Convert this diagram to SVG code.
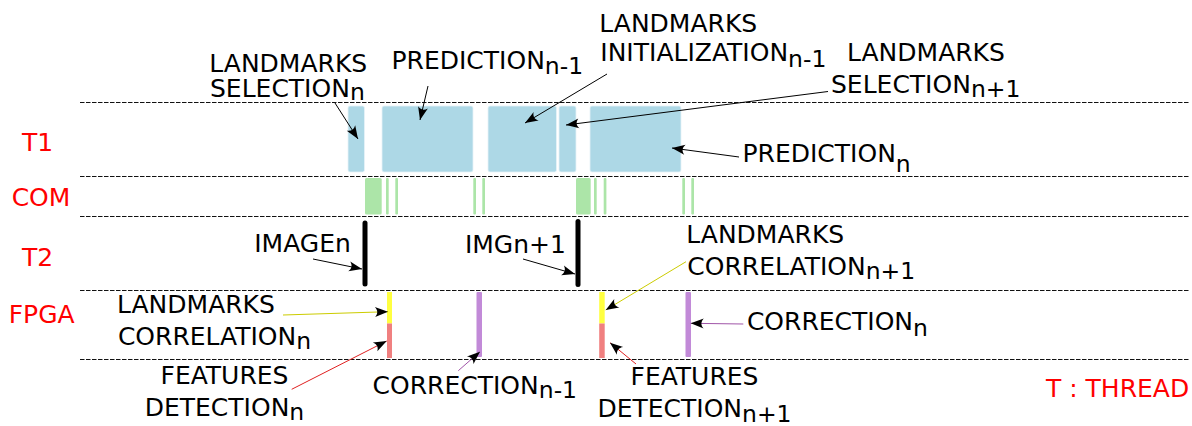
<svg xmlns="http://www.w3.org/2000/svg" width="1192" height="426" viewBox="0 0 1192 426">
<defs>
<style>
.lane{stroke:#111;stroke-width:1;stroke-dasharray:4.5 1.5;fill:none}
.t1{fill:#add8e6;stroke:#e6f3f7;stroke-width:0.8}
.com{fill:#ace5a8}
.t2{stroke:#000;stroke-width:5;stroke-linecap:round}
.yel{fill:#ffff40}
.red{fill:#f08080}
.pur{fill:#c28ad8}
.lbl{font-family:"DejaVu Sans",sans-serif;font-size:25px;fill:#000}
.sub{font-size:23.5px}
.thr{font-family:"DejaVu Sans",sans-serif;font-size:25px;fill:#ff0000}
.c{fill:none;stroke-width:1}
</style>
<marker id="ah" viewBox="-15 -7 16 14" refX="0" refY="0" markerWidth="16" markerHeight="14" markerUnits="userSpaceOnUse" orient="auto">
<path d="M0,0 L-13,-5 C-10,-1.5 -10,1.5 -13,5 Z" fill="#000"/>
</marker>
</defs>
<rect width="1192" height="426" fill="#fff"/>

<g id="lanes">
<line class="lane" x1="80" y1="102.5" x2="1190" y2="102.5"/>
<line class="lane" x1="80" y1="176.5" x2="1190" y2="176.5"/>
<line class="lane" x1="80" y1="216.5" x2="1190" y2="216.5"/>
<line class="lane" x1="80" y1="290.5" x2="1190" y2="290.5"/>
<line class="lane" x1="80" y1="359.5" x2="1190" y2="359.5"/>
</g>

<g id="lane-labels">
<text class="thr" x="37.5" y="151" text-anchor="middle">T1</text>
<text class="thr" x="41" y="205.7" text-anchor="middle">COM</text>
<text class="thr" x="37.5" y="265.7" text-anchor="middle">T2</text>
<text class="thr" x="41.7" y="323.3" text-anchor="middle">FPGA</text>
<text class="thr" x="1046" y="397.3">T : THREAD</text>
</g>

<g id="t1-blocks">
<rect id="sel-n" class="t1" x="348" y="106" width="16.5" height="66" rx="2"/>
<rect id="pred-n-1" class="t1" x="382" y="106" width="91" height="66" rx="2"/>
<rect id="init-n-1" class="t1" x="488" y="106" width="68.5" height="66" rx="2"/>
<rect id="sel-n+1" class="t1" x="559" y="106" width="17" height="66" rx="2"/>
<rect id="pred-n" class="t1" x="590" y="106" width="91" height="66" rx="2"/>
</g>

<g id="com-blocks">
<rect class="com" x="365" y="178" width="16.7" height="36.5" rx="1.5"/>
<rect class="com" x="386" y="178" width="2.7" height="36.5" rx="1"/>
<rect class="com" x="395.3" y="178" width="2.7" height="36.5" rx="1"/>
<rect class="com" x="473.3" y="178" width="2.7" height="36.5" rx="1"/>
<rect class="com" x="482.3" y="178" width="2.7" height="36.5" rx="1"/>
<rect class="com" x="576" y="178" width="14.7" height="36.5" rx="1.5"/>
<rect class="com" x="594" y="178" width="2.7" height="36.5" rx="1"/>
<rect class="com" x="603.7" y="178" width="2.7" height="36.5" rx="1"/>
<rect class="com" x="682.3" y="178" width="2.7" height="36.5" rx="1"/>
<rect class="com" x="691.3" y="178" width="2.7" height="36.5" rx="1"/>
</g>

<g id="t2-bars">
<line id="image-n" class="t2" x1="365" y1="223" x2="365" y2="284"/>
<line id="img-n+1" class="t2" x1="578" y1="221.5" x2="578" y2="284.5"/>
</g>

<g id="fpga-bars">
<rect id="lc-n" class="yel" x="387" y="292" width="5" height="31.5"/>
<rect id="fd-n" class="red" x="387" y="323.5" width="5" height="34.5"/>
<rect id="corr-n-1" class="pur" x="476.5" y="292" width="5.5" height="65" rx="1"/>
<rect id="lc-n+1" class="yel" x="599.2" y="292" width="5.5" height="31.5"/>
<rect id="fd-n+1" class="red" x="599.2" y="323.5" width="5.5" height="34.5"/>
<rect id="corr-n" class="pur" x="685.5" y="292" width="5.5" height="65" rx="1"/>
</g>

<g id="label-sel-n" class="lbl">
<text x="209.3" y="71.7">LANDMARKS</text>
<text x="210" y="96.7">SELECTION<tspan class="sub" dy="3">n</tspan></text>
</g>
<g id="label-pred-n-1" class="lbl">
<text x="391.5" y="69.3">PREDICTION<tspan class="sub" dy="5">n-1</tspan></text>
</g>
<g id="label-init-n-1" class="lbl">
<text x="599.3" y="31.7">LANDMARKS</text>
<text x="600.3" y="60.7">INITIALIZATION<tspan class="sub" dy="6">n-1</tspan></text>
</g>
<g id="label-sel-n+1" class="lbl">
<text x="847" y="60.7">LANDMARKS</text>
<text x="831" y="93.3">SELECTION<tspan class="sub" dy="3.4">n+1</tspan></text>
</g>
<g id="label-pred-n" class="lbl">
<text x="742.5" y="161.7">PREDICTION<tspan class="sub" dy="10">n</tspan></text>
</g>
<g id="label-image-n" class="lbl">
<text x="254.2" y="251.7">IMAGEn</text>
</g>
<g id="label-img-n+1" class="lbl">
<text x="464.9" y="252.7">IMGn+1</text>
</g>
<g id="label-lc-n" class="lbl">
<text x="117" y="313.3">LANDMARKS</text>
<text x="117.9" y="345.3">CORRELATION<tspan class="sub" dy="4">n</tspan></text>
</g>
<g id="label-fd-n" class="lbl" text-anchor="middle">
<text x="224.5" y="384.3">FEATURES</text>
<text x="224.5" y="416">DETECTION<tspan class="sub" dy="4">n</tspan></text>
</g>
<g id="label-corr-n-1" class="lbl">
<text x="372.6" y="394">CORRECTION<tspan class="sub" dy="4.3">n-1</tspan></text>
</g>
<g id="label-lc-n+1" class="lbl">
<text x="686.3" y="243.3">LANDMARKS</text>
<text x="687.3" y="275">CORRELATION<tspan class="sub" dy="4">n+1</tspan></text>
</g>
<g id="label-corr-n" class="lbl">
<text x="746.9" y="330">CORRECTION<tspan class="sub" dy="6">n</tspan></text>
</g>
<g id="label-fd-n+1" class="lbl" text-anchor="middle">
<text x="694.5" y="385">FEATURES</text>
<text x="694.5" y="417.3">DETECTION<tspan class="sub" dy="4.4">n+1</tspan></text>
</g>

<g id="connectors">
<line class="c" stroke="#000" x1="335" y1="103" x2="358" y2="139" marker-end="url(#ah)"/>
<line class="c" stroke="#000" x1="428" y1="86" x2="420" y2="120" marker-end="url(#ah)"/>
<line class="c" stroke="#000" x1="607" y1="74" x2="525" y2="123" marker-end="url(#ah)"/>
<line class="c" stroke="#000" x1="828" y1="91.5" x2="566" y2="125" marker-end="url(#ah)"/>
<line class="c" stroke="#000" x1="739" y1="157" x2="672" y2="148" marker-end="url(#ah)"/>
<line class="c" stroke="#000" x1="313" y1="259" x2="362" y2="269" marker-end="url(#ah)"/>
<line class="c" stroke="#000" x1="523" y1="259" x2="575" y2="274" marker-end="url(#ah)"/>
<line class="c" stroke="#cccc00" x1="283" y1="315" x2="388" y2="311.7" marker-end="url(#ah)"/>
<line class="c" stroke="#e02020" x1="291.7" y1="389.3" x2="386.7" y2="341" marker-end="url(#ah)"/>
<line class="c" stroke="#a055a8" x1="458.3" y1="370.7" x2="480" y2="351.7" marker-end="url(#ah)"/>
<line class="c" stroke="#cccc00" x1="686" y1="261.7" x2="605.7" y2="310" marker-end="url(#ah)"/>
<line class="c" stroke="#e02020" x1="636" y1="364" x2="610" y2="342.7" marker-end="url(#ah)"/>
<line class="c" stroke="#a055a8" x1="743.3" y1="324" x2="690.7" y2="323.3" marker-end="url(#ah)"/>
</g>
</svg>
